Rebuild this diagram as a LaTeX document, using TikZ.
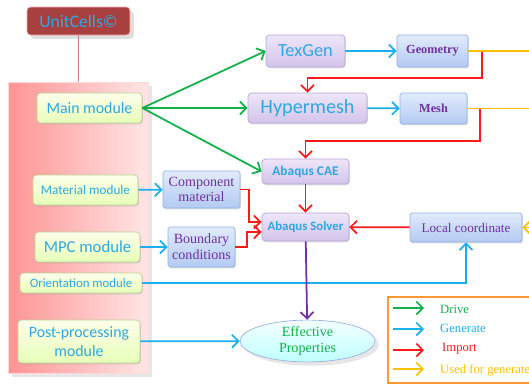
\documentclass[tikz,border=0pt]{standalone}
\usepackage{fontspec}
\usepackage{xcolor}
\usepackage{tikz}
\usetikzlibrary{positioning}
\usetikzlibrary{arrows.meta}
\usetikzlibrary{shapes.geometric}
\usetikzlibrary{shadows}
\newfontfamily\calib{Carlito}
\newfontfamily\tms{Liberation Serif}
\definecolor{txtblue}{HTML}{2EA8E2}
\definecolor{txtpurple}{HTML}{7030A0}
\definecolor{drivegreen}{HTML}{12B04A}
\definecolor{genblue}{HTML}{1AAFEF}
\definecolor{impred}{HTML}{FF1A1A}
\definecolor{useorange}{HTML}{FFC000}
\definecolor{solvepurple}{HTML}{7030A0}
\definecolor{lavtop}{HTML}{EEE6F8}
\definecolor{lavbot}{HTML}{D3C3EB}
\definecolor{lavline}{HTML}{B9A5D9}
\definecolor{bluetop}{HTML}{E1EBFC}
\definecolor{bluebot}{HTML}{B3CAF2}
\definecolor{blueline}{HTML}{92AFE4}
\tikzset {
  >={Straight Barb[length=1.3mm, width=2.6mm]},
  % shaded boxes
  box/.style = {rounded corners=2pt, drop shadow={opacity=0.25, shadow xshift=0.5pt, shadow yshift=-0.8pt},
    inner sep=1pt, align=center},
  module/.style = {box, top color=green!6!yellow!8, bottom color=green!35!yellow!28, draw=green!45!yellow!45!gray!60,
    text=txtblue, font=\calib},
  tool/.style = {box, top color=lavtop, bottom color=lavbot, draw=lavline, text=txtblue, font=\calib},
  data/.style = {box, rounded corners=1pt, top color=bluetop, bottom color=bluebot, draw=blueline,
    text=txtpurple, font=\tms\bfseries},
  % arrows
  drive/.style={->, drivegreen, line width=1pt},
  generate/.style={->, genblue, line width=1pt},
  import/.style={->, impred, line width=1pt},
  used/.style={useorange, line width=1pt},
  solve/.style={->, solvepurple, line width=1pt},
  legtext/.style={anchor=west, font=\tms\fontsize{7.2}{8}\selectfont},
}

\begin{document}
\begin{tikzpicture}[x=0.02cm, y=-0.02cm]
      \useasboundingbox (0, 0) rectangle (529, 387);

      \node[rounded corners=2pt, fill=red!55!black!75!white, draw=red!30!white, drop shadow={opacity=0.25},
        minimum width=2.06cm, minimum height=0.56cm, text=txtblue, font=\calib\fontsize{10}{11}\selectfont]
        (unit) at (78.5, 21) {UnitCells\textcopyright};
      \node[left color=red!42, right color=red!10, draw=red!15, minimum width=2.8cm, minimum height=5.82cm,
        drop shadow={opacity=0.2}] (panel) at (78, 227.5) {};
      \draw [red!40!gray!70, line width=0.6pt] (unit) -- (panel);

      \node[module, minimum width=2.1cm, minimum height=0.6cm, font=\calib\fontsize{9}{10}\selectfont]
        (main) at (89.5, 108) {Main module};
      \node[module, minimum width=2.1cm, minimum height=0.6cm, font=\calib\fontsize{7.5}{8}\selectfont]
        (mat) at (85.5, 190) {Material module};
      \node[module, minimum width=2.1cm, minimum height=0.6cm, font=\calib\fontsize{9.5}{10}\selectfont]
        (mpc) at (87.5, 247) {MPC module};
      \node[module, minimum width=2.44cm, minimum height=0.4cm, font=\calib\fontsize{7.3}{8}\selectfont]
        (orient) at (81, 283) {Orientation module};
      \node[module, minimum width=2.44cm, minimum height=0.86cm, font=\calib\fontsize{9}{11}\selectfont]
        (post) at (79, 341.5) {Post-processing\\module};

      \node[tool, minimum width=1.58cm, minimum height=0.64cm, font=\calib\fontsize{10.5}{12}\selectfont]
        (texgen) at (305.5, 51) {TexGen};
      \node[tool, minimum width=2.38cm, minimum height=0.6cm, font=\calib\fontsize{11.5}{13}\selectfont]
        (hyper) at (307.5, 108) {Hypermesh};
      \node[tool, minimum width=1.74cm, minimum height=0.5cm, font=\calib\bfseries\fontsize{7.6}{9}\selectfont]
        (cae) at (305.5, 171.5) {Abaqus CAE};
      \node[tool, minimum width=1.74cm, minimum height=0.56cm, font=\calib\bfseries\fontsize{7.3}{9}\selectfont]
        (solver) at (305.5, 227) {Abaqus Solver};

      \node[data, minimum width=1.42cm, minimum height=0.64cm, font=\tms\bfseries\fontsize{7}{8}\selectfont]
        (geom) at (432.5, 51) {Geometry};
      \node[data, minimum width=1.34cm, minimum height=0.62cm, font=\tms\bfseries\fontsize{7}{8}\selectfont]
        (mesh) at (433.5, 108.5) {Mesh};
      \node[data, minimum width=1.54cm, minimum height=0.74cm, font=\tms\fontsize{8}{9}\selectfont]
        (comp) at (201.5, 189.5) {Component\\material};
      \node[data, minimum width=1.34cm, minimum height=0.8cm, font=\tms\fontsize{8}{9}\selectfont]
        (bound) at (201.5, 247) {Boundary\\conditions};
      \node[data, minimum width=2.24cm, minimum height=0.58cm, font=\tms\fontsize{7.5}{9}\selectfont]
        (local) at (466, 227.5) {Local coordinate};

      \node[ellipse, top color=cyan!4, bottom color=cyan!25, draw=cyan!45!blue!40, drop shadow={opacity=0.2},
        minimum width=2.7cm, minimum height=0.8cm, inner sep=0pt, align=center, text=drivegreen,
        font=\tms\fontsize{8}{9.5}\selectfont] (eff) at (307.5, 341) {Effective\\Properties};

      % right edge (picture is cut there)
      \coordinate (e1) at (532, 51);
      \coordinate (e2) at (532, 108.5);
      \coordinate (e3) at (532, 227.5);

      \draw [drive] (main.east) -- (texgen.west);
      \draw [drive] (main.east) -- (hyper.west);
      \draw [drive] (main.east) -- (cae.west);

      \draw [generate] (texgen) -- (geom);
      \draw [generate] (hyper) -- (mesh);
      \draw [generate] (mat) -- (comp);
      \draw [generate] (mpc) -- (bound);
      \draw [generate] (orient.east) -| (local.south);
      \draw [generate] (post) -- (eff);

      \draw [import] (geom.east) -- ++(14, 0) |- (307.5, 78) -- (hyper.north);
      \draw [import] (mesh.east) -- ++(13, 0) |- (305.5, 141) -- (cae.north);
      \draw [import] (cae) -- (solver);
      \draw [import] (comp.east) -- ++(9, 0) |- ([yshift=0.1cm]solver.west);
      \draw [import] (bound.east) -- ++(12, 0) |- ([yshift=-0.1cm]solver.west);
      \draw [import] (local) -- (solver);

      \draw [used] (geom.east) -- (e1);
      \draw [used] (mesh.east) -- (e2);
      \draw [used, ->] (e3) -- (local.east);

      \draw [solve] (solver) -- (eff);

      % legend
      \node[draw=orange!80, line width=0.8pt, minimum width=2.96cm, minimum height=1.72cm] (legend) at (462, 340) {};
      \coordinate (a1) at (393, 308);  \coordinate (b1) at (424, 308);
      \coordinate (a2) at (393, 329);  \coordinate (b2) at (424, 329);
      \coordinate (a3) at (393, 350);  \coordinate (b3) at (424, 350);
      \coordinate (a4) at (393, 369);  \coordinate (b4) at (424, 369);
      \draw [drive] (a1) -- (b1);
      \draw [generate] (a2) -- (b2);
      \draw [import] (a3) -- (b3);
      \draw [used, ->] (a4) -- (b4);
      \node[legtext, text=drivegreen] (l1) at (434, 309) {Drive};
      \node[legtext, text=genblue] (l2) at (434, 328) {Generate};
      \node[legtext, text=impred] (l3) at (436, 349) {Import};
      \node[legtext, text=useorange] (l4) at (434, 370) {Used for generate};
    \end{tikzpicture}
\end{document}
